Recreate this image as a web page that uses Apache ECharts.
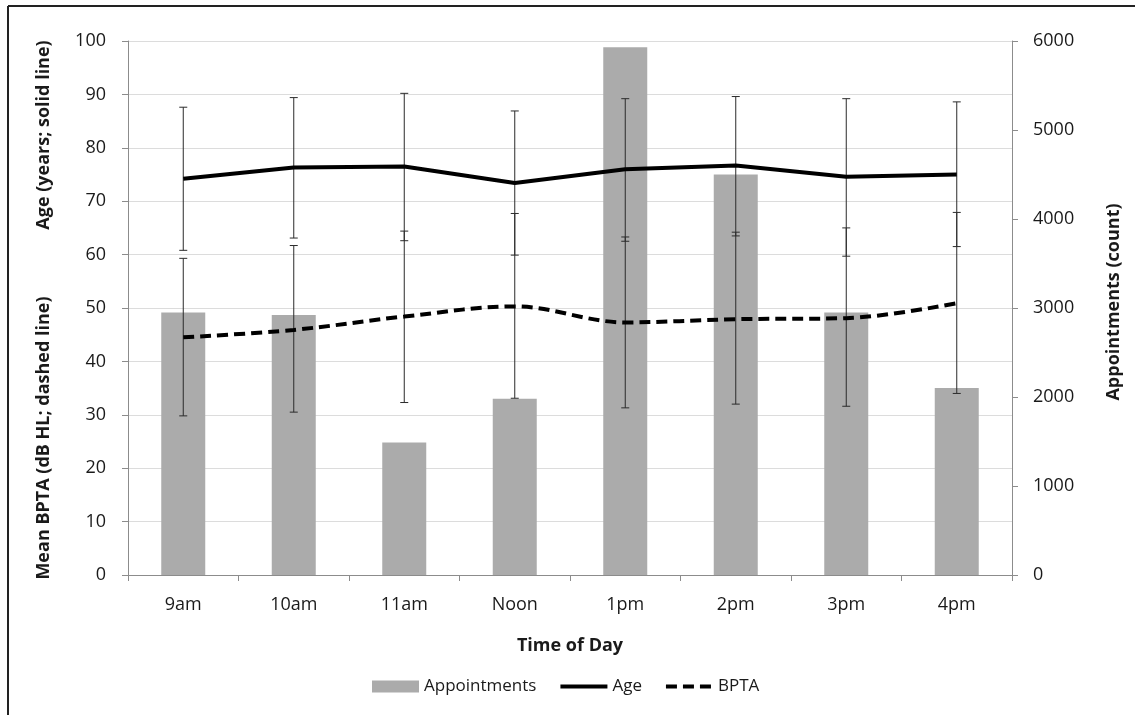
<!DOCTYPE html>
<html>
<head>
<meta charset="utf-8">
<title>Appointments, Age and BPTA by Time of Day</title>
<script src="https://cdn.jsdelivr.net/npm/echarts@6/dist/echarts.min.js"></script>
<style>
  html, body { margin: 0; padding: 0; background: #fff; }
  #chart { width: 1135px; height: 715px; }
</style>
</head>
<body>
<div id="chart"></div>
<script>
// Time slots on the category axis
const categories = ['9am', '10am', '11am', 'Noon', '1pm', '2pm', '3pm', '4pm'];

// Appointments per slot (right axis, count)
const appointments = [2950, 2920, 1490, 1980, 5930, 4500, 2950, 2100];

// Mean age in years (left axis, solid line) with error-bar ends
const age     = [74.2, 76.3, 76.5, 73.4, 76.0, 76.7, 74.6, 75.0];
const ageLow  = [60.8, 63.1, 62.6, 59.9, 62.5, 63.5, 59.7, 61.5];
const ageHigh = [87.6, 89.4, 90.2, 86.9, 89.2, 89.6, 89.2, 88.6];

// Mean BPTA in dB HL (left axis, dashed line) with error-bar ends
const bpta     = [44.5, 45.9, 48.4, 50.3, 47.3, 47.9, 48.1, 50.9];
const bptaLow  = [29.8, 30.5, 32.3, 33.1, 31.3, 32.0, 31.6, 34.0];
const bptaHigh = [59.3, 61.7, 64.4, 67.7, 63.3, 64.2, 65.0, 67.9];

// Axis tick settings
const leftTicks  = { min: 0, max: 100, interval: 10 };
const rightTicks = { min: 0, max: 6000, interval: 1000 };

const FONT = '"Open Sans", "Noto Sans", sans-serif';
const TEXT = '#1a1a1a';
const AXIS = '#8c8c8c';
const BPTA_DASH = [11, 6];

function rangeData(lo, hi) {
  return lo.map((v, i) => [i, v, hi[i]]);
}

// Vertical whisker with short caps at both ends
function renderWhisker(params, api) {
  const i = api.value(0);
  const a = api.coord([i, api.value(1)]);
  const b = api.coord([i, api.value(2)]);
  const half = 4;
  const style = { stroke: '#2b2b2b', lineWidth: 1 };
  return {
    type: 'group',
    children: [
      { type: 'line', shape: { x1: a[0], y1: a[1], x2: b[0], y2: b[1] }, style },
      { type: 'line', shape: { x1: a[0] - half, y1: a[1], x2: a[0] + half, y2: a[1] }, style },
      { type: 'line', shape: { x1: b[0] - half, y1: b[1], x2: b[0] + half, y2: b[1] }, style }
    ]
  };
}

const chart = echarts.init(document.getElementById('chart'), null, { renderer: 'canvas' });

chart.setOption({
  animation: false,
  backgroundColor: '#fff',
  textStyle: { fontFamily: FONT },
  grid: { left: 128, right: 123, top: 41, bottom: 140, containLabel: false },
  legend: {
    left: 367,
    top: 673,
    itemWidth: 47,
    itemHeight: 12,
    itemGap: 22,
    textStyle: { fontFamily: FONT, fontSize: 17, color: TEXT },
    data: [
      { name: 'Appointments', icon: 'rect' },
      { name: 'Age', itemStyle: { opacity: 0 }, lineStyle: { width: 4, color: '#000', type: 'solid' } },
      { name: 'BPTA', itemStyle: { opacity: 0 }, lineStyle: { width: 4, color: '#000', type: BPTA_DASH } }
    ]
  },
  xAxis: {
    type: 'category',
    data: categories,
    name: 'Time of Day',
    nameLocation: 'middle',
    nameGap: 62,
    nameTextStyle: { fontFamily: FONT, fontSize: 18, fontWeight: 'bold', color: TEXT },
    axisLine: { lineStyle: { color: AXIS, width: 1 } },
    axisTick: { show: true, length: 6, lineStyle: { color: AXIS } },
    axisLabel: { margin: 21, fontSize: 18, color: TEXT, fontFamily: FONT },
    splitLine: { show: false }
  },
  yAxis: [
    {
      type: 'value',
      position: 'left',
      min: leftTicks.min, max: leftTicks.max, interval: leftTicks.interval,
      axisLine: { show: true, lineStyle: { color: AXIS, width: 1 } },
      axisTick: { show: true, length: 6, lineStyle: { color: AXIS } },
      axisLabel: { margin: 22, fontSize: 18, color: TEXT, fontFamily: FONT },
      splitLine: { show: true, lineStyle: { color: '#dcdcdc', width: 1 } }
    },
    {
      type: 'value',
      position: 'right',
      min: rightTicks.min, max: rightTicks.max, interval: rightTicks.interval,
      axisLine: { show: true, lineStyle: { color: AXIS, width: 1 } },
      axisTick: { show: true, length: 6, lineStyle: { color: AXIS } },
      axisLabel: { margin: 21, fontSize: 18, color: TEXT, fontFamily: FONT, formatter: v => String(v) },
      splitLine: { show: false }
    }
  ],
  graphic: [
    // frame edges
    { type: 'line', silent: true, shape: { x1: 8, y1: 6, x2: 1135, y2: 6 }, style: { stroke: '#222', lineWidth: 2 } },
    { type: 'line', silent: true, shape: { x1: 8, y1: 6, x2: 8, y2: 715 }, style: { stroke: '#222', lineWidth: 2 } },
    // left axis titles
    {
      type: 'text', x: 44, y: 135, rotation: Math.PI / 2,
      style: { text: 'Age (years; solid line)', font: 'bold 18px ' + FONT, fill: TEXT, align: 'center', verticalAlign: 'middle' }
    },
    {
      type: 'text', x: 44, y: 438, rotation: Math.PI / 2,
      style: { text: 'Mean BPTA (dB HL; dashed line)', font: 'bold 18px ' + FONT, fill: TEXT, align: 'center', verticalAlign: 'middle' }
    },
    // right axis title
    {
      type: 'text', x: 1114, y: 302, rotation: Math.PI / 2,
      style: { text: 'Appointments (count)', font: 'bold 18px ' + FONT, fill: TEXT, align: 'center', verticalAlign: 'middle' }
    }
  ],
  series: [
    {
      name: 'Appointments',
      type: 'bar',
      yAxisIndex: 1,
      data: appointments,
      barWidth: 44,
      itemStyle: { color: '#ababab' },
      z: 2
    },
    {
      name: 'Age error',
      type: 'custom',
      yAxisIndex: 0,
      data: rangeData(ageLow, ageHigh),
      renderItem: renderWhisker,
      encode: { x: 0, y: [1, 2] },
      z: 3,
      silent: true
    },
    {
      name: 'BPTA error',
      type: 'custom',
      yAxisIndex: 0,
      data: rangeData(bptaLow, bptaHigh),
      renderItem: renderWhisker,
      encode: { x: 0, y: [1, 2] },
      z: 3,
      silent: true
    },
    {
      name: 'Age',
      type: 'line',
      yAxisIndex: 0,
      data: age,
      symbol: 'none',
      lineStyle: { color: '#000', width: 4, type: 'solid' },
      itemStyle: { color: '#000' },
      z: 4
    },
    {
      name: 'BPTA',
      type: 'line',
      yAxisIndex: 0,
      data: bpta,
      symbol: 'none',
      smooth: 0.35,
      lineStyle: { color: '#000', width: 4, type: BPTA_DASH },
      itemStyle: { color: '#000' },
      z: 4
    }
  ]
});
</script>
</body>
</html>
